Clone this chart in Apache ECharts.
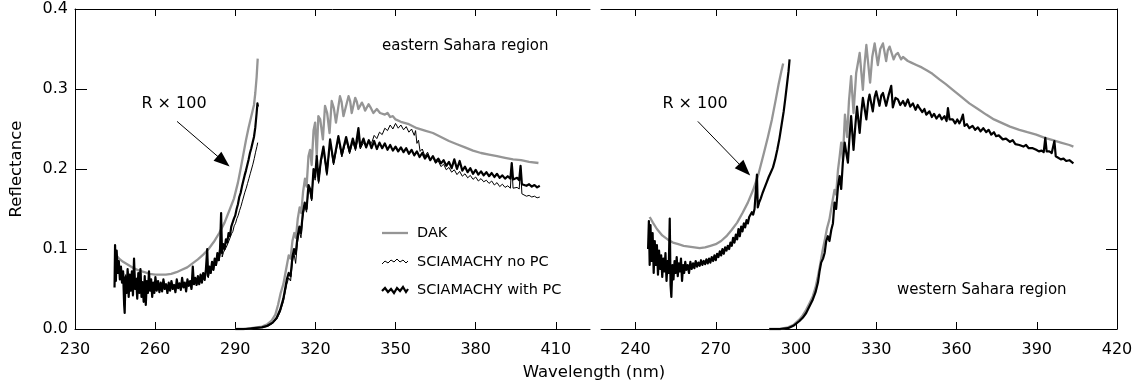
<!DOCTYPE html>
<html><head><meta charset="utf-8">
<script src="https://cdn.jsdelivr.net/npm/echarts@6/dist/echarts.min.js"></script>
<style>html,body{margin:0;padding:0;background:#fff}#c{width:1138px;height:384px}</style>
</head><body><div id="c"></div>
<script>
// ---------- data (wavelength nm, reflectance) ----------
const xTicksEast = [230, 260, 290, 320, 350, 380, 410];
const xTicksWest = [240, 270, 300, 330, 360, 390, 420];
const yTicks = [0, 0.1, 0.2, 0.3, 0.4];

// eastern Sahara, UV part (R x 100)
const eastDakUV = [[245.5,0.092],[246.5,0.088],[248,0.084],[250,0.080],[252,0.076],[254,0.073],[256,0.071],[258,0.069],[260,0.068],[262,0.068],[264,0.068],[266,0.069],[268,0.071],[270,0.074],[272,0.077],[274,0.082],[276,0.087],[278,0.093],[280,0.100],[282,0.109],[284,0.120],[286,0.133],[288,0.150],[289.5,0.163],[291,0.183],[292,0.200],[293,0.218],[294,0.236],[295,0.252],[296,0.266],[297,0.280],[297.5,0.295],[298,0.315],[298.4,0.338]];
const eastNoPcUV = [[244.8,0.055],[245.1,0.098],[245.4,0.066],[245.8,0.092],[246.2,0.072],[246.6,0.082],[247.0,0.064],[247.4,0.076],[247.8,0.060],[248.2,0.070],[248.6,0.040],[249.0,0.068],[249.4,0.050],[249.8,0.072],[250.2,0.046],[250.6,0.066],[251.0,0.052],[251.4,0.070],[251.8,0.048],[252.2,0.078],[252.6,0.054],[253.0,0.064],[253.4,0.044],[253.8,0.066],[254.2,0.050],[254.6,0.070],[255.0,0.046],[255.4,0.060],[255.8,0.040],[256.2,0.062],[256.6,0.038],[257.0,0.058],[257.4,0.048],[257.8,0.068],[258.2,0.052],[258.6,0.060],[259.0,0.044],[259.4,0.057],[259.8,0.048],[260.2,0.062],[260.7,0.050],[261.2,0.058],[261.7,0.048],[262.2,0.056],[262.7,0.049],[263.2,0.060],[263.7,0.051],[264.2,0.055],[264.7,0.047],[265.2,0.057],[265.7,0.049],[266.2,0.058],[266.7,0.051],[267.2,0.054],[267.7,0.048],[268.2,0.060],[268.7,0.052],[269.2,0.056],[269.7,0.050],[270.2,0.061],[270.7,0.053],[271.2,0.057],[271.7,0.049],[272.2,0.060],[272.7,0.054],[273.2,0.058],[273.7,0.051],[274.2,0.070],[274.6,0.055],[275.1,0.062],[275.6,0.055],[276.1,0.063],[276.6,0.056],[277.1,0.065],[277.6,0.058],[278.1,0.066],[278.6,0.060],[279.1,0.070],[279.6,0.090],[279.9,0.064],[280.4,0.074],[280.9,0.070],[281.4,0.080],[281.9,0.074],[282.4,0.084],[282.9,0.079],[283.4,0.090],[283.9,0.085],[284.4,0.094],[284.8,0.132],[285.1,0.090],[285.6,0.096],[286.1,0.095],[286.6,0.102],[287.1,0.103],[287.6,0.110],[288.1,0.112],[288.6,0.119],[289.1,0.122],[289.6,0.129],[290.1,0.132],[290.6,0.138],[291.1,0.142],[291.6,0.148],[292.1,0.153],[292.6,0.159],[293.1,0.165],[293.6,0.171],[294.1,0.176],[294.6,0.182],[295.1,0.188],[295.6,0.194],[296.1,0.200],[296.6,0.206],[297.1,0.213],[297.6,0.221],[298.1,0.228],[298.4,0.233]];
const eastPcUV = [[244.8,0.052],[245.0,0.105],[245.3,0.060],[245.6,0.098],[246.0,0.070],[246.4,0.085],[246.8,0.062],[247.2,0.078],[247.6,0.058],[248.0,0.072],[248.4,0.030],[248.6,0.020],[248.9,0.065],[249.3,0.045],[249.7,0.075],[250.1,0.040],[250.5,0.068],[250.9,0.048],[251.3,0.072],[251.7,0.042],[252.1,0.088],[252.5,0.050],[252.9,0.062],[253.3,0.038],[253.7,0.070],[254.1,0.045],[254.5,0.075],[254.9,0.040],[255.3,0.058],[255.7,0.034],[256.1,0.066],[256.5,0.030],[256.9,0.060],[257.3,0.045],[257.7,0.072],[258.1,0.048],[258.5,0.062],[258.9,0.040],[259.3,0.058],[259.7,0.045],[260.1,0.065],[260.6,0.048],[261.1,0.060],[261.6,0.046],[262.1,0.058],[262.6,0.047],[263.1,0.062],[263.6,0.050],[264.1,0.056],[264.6,0.045],[265.1,0.058],[265.6,0.048],[266.1,0.060],[266.6,0.050],[267.1,0.055],[267.6,0.046],[268.1,0.062],[268.6,0.051],[269.1,0.057],[269.6,0.049],[270.1,0.064],[270.6,0.052],[271.1,0.058],[271.6,0.047],[272.1,0.062],[272.6,0.054],[273.1,0.060],[273.6,0.050],[274.1,0.078],[274.5,0.056],[275.0,0.064],[275.5,0.055],[276.0,0.066],[276.5,0.056],[277.0,0.068],[277.5,0.058],[278.0,0.070],[278.5,0.062],[279.0,0.074],[279.5,0.100],[279.8,0.066],[280.3,0.078],[280.8,0.070],[281.3,0.084],[281.8,0.074],[282.3,0.088],[282.8,0.080],[283.3,0.095],[283.8,0.086],[284.3,0.100],[284.7,0.145],[285.0,0.095],[285.5,0.106],[286.0,0.100],[286.5,0.112],[287.0,0.108],[287.5,0.120],[288.0,0.116],[288.5,0.128],[289.0,0.126],[289.5,0.138],[290.0,0.142],[290.5,0.150],[291.0,0.156],[291.5,0.165],[292.0,0.170],[292.5,0.178],[293.0,0.185],[293.5,0.192],[294.0,0.198],[294.5,0.205],[295.0,0.212],[295.5,0.220],[296.0,0.226],[296.5,0.233],[297.0,0.240],[297.5,0.252],[298.0,0.270],[298.3,0.282],[298.5,0.278]];

// eastern Sahara, main part
const eastDakVis = [[290,0.000],[293,0.000],[296,0.001],[298,0.002],[300,0.003],[302,0.006],[303.5,0.010],[305,0.018],[306,0.030],[307,0.045],[308,0.056],[309,0.074],[310,0.092],[310.7,0.088],[311.4,0.110],[312.1,0.120],[312.7,0.114],[313.4,0.138],[314.1,0.152],[314.7,0.145],[315.4,0.172],[316.1,0.188],[316.7,0.178],[317.4,0.216],[318,0.224],[318.6,0.205],[319.3,0.248],[319.9,0.258],[320.5,0.216],[321.1,0.266],[321.8,0.262],[322.8,0.237],[323.6,0.279],[324.4,0.270],[325.3,0.245],[326.1,0.285],[326.9,0.276],[327.7,0.258],[329.2,0.291],[329.8,0.284],[330.5,0.266],[332.4,0.291],[333,0.285],[333.6,0.270],[334.9,0.289],[335.5,0.284],[336.1,0.275],[337.4,0.283],[338,0.279],[338.6,0.273],[339.9,0.281],[340.8,0.276],[341.7,0.270],[343,0.275],[344.2,0.270],[346,0.268],[347,0.270],[348,0.265],[349,0.266],[350,0.262],[352,0.259],[355,0.256],[358,0.251],[361,0.248],[364,0.245],[367,0.240],[370,0.235],[373,0.231],[376,0.227],[379,0.223],[382,0.220],[385,0.218],[388,0.216],[391,0.214],[394,0.212],[397,0.211],[400,0.209],[403.5,0.2075]];
const eastNoPcVis = [[290,0.000],[294,0.000],[297,0.001],[300,0.002],[302,0.003],[304,0.007],[305.5,0.012],[306.8,0.021],[308,0.034],[309.3,0.056],[310,0.064],[310.7,0.060],[311.4,0.084],[312,0.094],[312.6,0.082],[313.3,0.108],[314,0.122],[314.6,0.114],[315.3,0.140],[316,0.153],[316.7,0.146],[317.4,0.176],[318,0.171],[318.6,0.160],[319.3,0.196],[319.9,0.186],[320.5,0.212],[321.2,0.182],[322,0.206],[323,0.224],[324.3,0.192],[325.5,0.233],[326.8,0.205],[328.6,0.237],[329.9,0.215],[331.5,0.236],[332.8,0.219],[334,0.234],[335,0.223],[336.1,0.240],[336.8,0.225],[338,0.233],[339,0.228],[340,0.236],[341,0.232],[342,0.242],[343,0.238],[344,0.246],[345,0.243],[346,0.251],[347,0.248],[348,0.255],[349,0.250],[350,0.257],[351,0.251],[352,0.255],[353,0.249],[354,0.253],[355,0.246],[356,0.250],[357,0.242],[357.5,0.248],[358,0.232],[358.6,0.236],[359.2,0.222],[360,0.225],[361,0.216],[362,0.221],[363,0.212],[364,0.215],[365,0.207],[366,0.210],[367,0.203],[368,0.206],[369,0.199],[370,0.202],[371,0.196],[372,0.199],[373,0.193],[374,0.197],[375,0.191],[376,0.194],[377,0.189],[378,0.192],[379,0.187],[380,0.190],[381,0.185],[382,0.188],[383,0.184],[384,0.186],[385,0.182],[386,0.185],[387,0.180],[388,0.183],[389,0.178],[390,0.181],[391,0.177],[392,0.179],[393,0.176],[393.5,0.2055],[394,0.176],[394.7,0.176],[395.5,0.177],[396.3,0.175],[396.8,0.203],[397.3,0.169],[398,0.168],[399,0.166],[400,0.167],[401,0.165],[402,0.166],[403,0.164],[404,0.165]];
const eastPcVis = [[290,0.000],[294,0.000],[297,0.001],[300,0.002],[302,0.004],[304,0.008],[305.5,0.014],[306.8,0.024],[308,0.038],[309.3,0.062],[310,0.070],[310.7,0.066],[311.4,0.090],[312,0.100],[312.6,0.094],[313.3,0.115],[314,0.128],[314.6,0.120],[315.3,0.145],[316,0.158],[316.7,0.150],[317.4,0.180],[318,0.175],[318.6,0.163],[319.3,0.200],[319.9,0.190],[320.5,0.216],[321.2,0.185],[322,0.210],[323,0.228],[324.3,0.195],[325.5,0.237],[326.8,0.208],[328.6,0.241],[329.9,0.218],[331.5,0.240],[332.8,0.222],[334,0.238],[335,0.226],[336.1,0.251],[336.8,0.228],[338,0.238],[339,0.227],[340,0.236],[341,0.226],[342,0.235],[343,0.225],[344,0.233],[345,0.226],[346,0.232],[347,0.224],[348,0.230],[349,0.223],[350,0.228],[351,0.222],[352,0.227],[353,0.221],[354,0.226],[355,0.219],[356,0.224],[357,0.217],[358,0.222],[359,0.215],[360,0.220],[361,0.213],[362,0.218],[363,0.211],[364,0.216],[365,0.209],[366,0.213],[367,0.207],[368,0.211],[369,0.204],[370,0.209],[371,0.201],[372,0.212],[373,0.200],[374,0.210],[375,0.198],[376,0.203],[377,0.196],[378,0.201],[379,0.194],[380,0.199],[381,0.193],[382,0.197],[383,0.192],[384,0.196],[385,0.191],[386,0.195],[387,0.190],[388,0.194],[389,0.189],[390,0.192],[391,0.188],[392,0.191],[393,0.188],[393.5,0.2075],[394,0.187],[394.7,0.186],[395.5,0.189],[396.3,0.186],[396.8,0.204],[397.3,0.181],[398,0.182],[399,0.179],[400,0.181],[401,0.178],[402,0.180],[403,0.177],[404,0.179]];

// western Sahara, UV part (R x 100)
const westDakUV = [[245.3,0.140],[246.5,0.133],[248,0.125],[250,0.117],[252,0.112],[254,0.108],[256,0.106],[258,0.104],[260,0.103],[262,0.102],[264,0.101],[266,0.102],[268,0.104],[270,0.106],[272,0.110],[274,0.116],[276,0.124],[278,0.133],[280,0.145],[282,0.158],[284,0.174],[286,0.194],[288,0.220],[289.5,0.240],[291,0.262],[292.5,0.288],[293.5,0.306],[294.5,0.322],[295.2,0.332]];
const westPcUV = [[244.7,0.100],[245.0,0.135],[245.3,0.080],[245.6,0.130],[246.0,0.085],[246.4,0.120],[246.8,0.070],[247.2,0.110],[247.6,0.080],[248.0,0.105],[248.4,0.068],[248.8,0.098],[249.2,0.075],[249.6,0.092],[250.0,0.065],[250.4,0.088],[250.8,0.072],[251.2,0.095],[251.6,0.060],[252.0,0.085],[252.4,0.070],[252.8,0.138],[253.1,0.055],[253.4,0.040],[253.8,0.080],[254.2,0.062],[254.6,0.085],[255.0,0.070],[255.4,0.090],[255.8,0.066],[256.2,0.082],[256.6,0.072],[257.0,0.088],[257.4,0.060],[257.8,0.080],[258.2,0.070],[258.6,0.084],[259.0,0.074],[259.5,0.080],[260.0,0.070],[260.5,0.084],[261.0,0.075],[261.5,0.082],[262.0,0.076],[262.5,0.085],[263.0,0.078],[263.5,0.083],[264.0,0.079],[264.5,0.086],[265.0,0.080],[265.5,0.085],[266.0,0.081],[266.5,0.087],[267.0,0.082],[267.5,0.088],[268.0,0.083],[268.5,0.090],[269.0,0.085],[269.5,0.092],[270.0,0.086],[270.5,0.094],[271.0,0.090],[271.5,0.097],[272.0,0.092],[272.5,0.100],[273.0,0.094],[273.5,0.102],[274.0,0.098],[274.5,0.104],[275.0,0.100],[275.5,0.108],[276.0,0.104],[276.5,0.114],[277.0,0.108],[277.5,0.118],[278.0,0.112],[278.5,0.125],[279.0,0.116],[279.5,0.128],[280.0,0.122],[280.5,0.132],[281.0,0.127],[281.5,0.136],[282.0,0.132],[282.5,0.140],[283.0,0.138],[283.5,0.146],[284.0,0.143],[284.5,0.150],[285.0,0.148],[285.4,0.193],[285.7,0.152],[286.2,0.158],[286.8,0.163],[287.5,0.170],[288.2,0.176],[289.0,0.183],[289.8,0.190],[290.6,0.196],[291.4,0.202],[292.2,0.212],[293.0,0.224],[293.8,0.238],[294.6,0.255],[295.4,0.272],[296.0,0.288],[296.6,0.305],[297.2,0.322],[297.6,0.337]];

// western Sahara, main part
const westDakVis = [[290,0.000],[294,0.000],[297,0.002],[299,0.005],[301.3,0.012],[302.5,0.017],[303.8,0.024],[305,0.032],[306.3,0.041],[307.3,0.052],[308.2,0.066],[309,0.080],[310,0.099],[310.8,0.112],[311.6,0.126],[312.5,0.137],[313.4,0.155],[314.4,0.174],[315,0.168],[315.7,0.199],[316.3,0.215],[316.9,0.233],[317.5,0.212],[318.3,0.268],[319.1,0.240],[319.8,0.285],[320.6,0.316],[321.5,0.270],[322.5,0.320],[323.8,0.345],[325,0.299],[325.6,0.330],[326.3,0.355],[327.7,0.308],[328.5,0.340],[329.4,0.357],[330.6,0.330],[331.5,0.350],[332.5,0.357],[333.7,0.335],[334.3,0.348],[335,0.353],[336.5,0.337],[337.3,0.343],[338.1,0.345],[339.3,0.337],[340,0.340],[340.6,0.341],[341.8,0.335],[342.5,0.336],[343.1,0.333],[345,0.330],[347,0.327],[349,0.323],[351,0.319],[353.6,0.312],[356,0.306],[358.6,0.299],[361.5,0.291],[364.8,0.282],[368,0.275],[371.1,0.268],[374,0.262],[377.3,0.257],[380,0.253],[383.5,0.249],[386.5,0.246],[389.8,0.243],[393,0.239],[396,0.236],[399,0.233],[402.2,0.230],[403.7,0.228]];
const westPcVis = [[290,0.000],[294,0.000],[297,0.001],[299,0.004],[301.3,0.010],[302.5,0.014],[303.8,0.020],[305,0.028],[306.3,0.037],[307.3,0.046],[308.2,0.058],[308.8,0.072],[309.4,0.083],[310.1,0.088],[310.7,0.095],[311.3,0.110],[311.9,0.116],[312.5,0.110],[313.2,0.124],[313.8,0.132],[314.4,0.158],[315,0.150],[315.7,0.178],[316.3,0.191],[316.9,0.175],[317.5,0.208],[318.2,0.233],[318.8,0.220],[319.4,0.208],[320,0.240],[320.6,0.266],[321.5,0.224],[322.2,0.255],[322.8,0.278],[323.8,0.245],[324.4,0.270],[325,0.289],[326.3,0.262],[327,0.285],[327.5,0.293],[328.7,0.272],[329.4,0.290],[330,0.297],[331.2,0.279],[331.9,0.292],[332.5,0.295],[333.7,0.279],[334.6,0.292],[335.6,0.304],[336.2,0.277],[337.2,0.289],[338.1,0.287],[339,0.280],[340,0.285],[340.8,0.279],[341.8,0.287],[342.7,0.278],[343.7,0.282],[344.7,0.274],[345.5,0.280],[346.2,0.276],[347.2,0.271],[348,0.275],[348.7,0.268],[349.9,0.272],[350.8,0.265],[351.6,0.269],[352.5,0.263],[353.6,0.268],[354.5,0.262],[355.5,0.266],[356.3,0.260],[356.8,0.276],[357.4,0.262],[358.6,0.262],[359.5,0.257],[360.3,0.262],[361.1,0.257],[361.8,0.262],[362.4,0.268],[363,0.254],[363.9,0.256],[364.8,0.251],[366,0.254],[367,0.249],[368,0.252],[369,0.247],[370,0.251],[371.1,0.246],[372,0.249],[373,0.243],[374,0.246],[374.8,0.241],[375.8,0.242],[377.3,0.237],[378.5,0.238],[380,0.234],[381,0.236],[382,0.231],[383.5,0.230],[385,0.228],[386,0.230],[387,0.226],[388.5,0.226],[389.8,0.224],[390.8,0.222],[391.8,0.223],[392.6,0.221],[393.2,0.239],[393.7,0.222],[394.7,0.222],[395.6,0.220],[396.6,0.235],[397.1,0.216],[397.8,0.214],[399,0.212],[400,0.213],[401,0.210],[402.2,0.211],[403.7,0.207]];

// annotation arrows (data coords: start, end)
const arrowEast = [[268.2, 0.2595], [285.6, 0.2095]];
const arrowWest = [[263.3, 0.2595], [280.8, 0.1991]];

// ---------- chart ----------
const FONT = 'DejaVu Sans';
const GRAY = '#959595';
const chart = echarts.init(document.getElementById('c'), null, {renderer: 'canvas'});

function xAx(grid, pos, min, max, ticks, labels) {
  return {
    type: 'value', gridIndex: grid, position: pos, min: min, max: max,
    axisLine: {show: true, onZero: false, lineStyle: {color: '#000', width: 1}},
    axisTick: {show: true, inside: true, length: 7, customValues: ticks, lineStyle: {color: '#000'}},
    axisLabel: {show: labels, customValues: ticks, margin: 13, color: '#000', fontFamily: FONT, fontSize: 16},
    splitLine: {show: false}
  };
}
function line(name, data, xi, yi, color, width, z) {
  return {name: name, type: 'line', data: data, xAxisIndex: xi, yAxisIndex: yi,
    showSymbol: false, symbol: 'none', smooth: false, clip: false, z: z,
    lineStyle: {color: color, width: width, join: 'round'}, animation: false, silent: true};
}
function arrow(pts, xi, yi) {
  return {type: 'line', data: [], xAxisIndex: xi, yAxisIndex: yi, animation: false, silent: true,
    markLine: {silent: true, animation: false, symbol: ['none', 'triangle'], symbolSize: [12, 16],
      label: {show: false}, lineStyle: {color: '#000', width: 1, type: 'solid'},
      data: [[{coord: pts[0]}, {coord: pts[1]}]]}};
}

const option = {
  backgroundColor: '#fff',
  animation: false,
  grid: [
    {left: 75, top: 9, width: 515, height: 320, containLabel: false},
    {left: 601, top: 9, width: 516, height: 320, containLabel: false}
  ],
  xAxis: [
    xAx(0, 'bottom', 230, 422.8, xTicksEast, true),
    xAx(0, 'top', 230, 422.8, xTicksEast, false),
    xAx(1, 'bottom', 227.1, 420, xTicksWest, true),
    xAx(1, 'top', 227.1, 420, xTicksWest, false)
  ],
  yAxis: [
    {type: 'value', gridIndex: 0, position: 'left', min: 0, max: 0.4, interval: 0.1,
      name: 'Reflectance', nameLocation: 'middle', nameGap: 50, nameRotate: 90,
      nameTextStyle: {color: '#000', fontFamily: FONT, fontSize: 16.5},
      axisLine: {show: true, lineStyle: {color: '#000', width: 1}},
      axisTick: {show: true, inside: true, length: 12, lineStyle: {color: '#000'}},
      axisLabel: {color: '#000', fontFamily: FONT, fontSize: 16, margin: 7, formatter: v => v.toFixed(1)},
      splitLine: {show: false}},
    {type: 'value', gridIndex: 1, position: 'right', min: 0, max: 0.4, interval: 0.1,
      axisLine: {show: true, lineStyle: {color: '#000', width: 1}},
      axisTick: {show: true, inside: true, length: 11, lineStyle: {color: '#000'}},
      axisLabel: {show: false}, splitLine: {show: false}}
  ],
  series: [
    line('DAK', eastDakUV, 0, 0, GRAY, 2.3, 2),
    line('DAK', eastDakVis, 0, 0, GRAY, 2.3, 2),
    line('SCIAMACHY no PC', eastNoPcUV, 0, 0, '#000', 1, 3),
    line('SCIAMACHY no PC', eastNoPcVis, 0, 0, '#000', 1, 3),
    line('SCIAMACHY with PC', eastPcUV, 0, 0, '#000', 2.2, 4),
    line('SCIAMACHY with PC', eastPcVis, 0, 0, '#000', 2.2, 4),
    line('DAK', westDakUV, 2, 1, GRAY, 2.3, 2),
    line('DAK', westDakVis, 2, 1, GRAY, 2.3, 2),
    line('SCIAMACHY with PC', westPcUV, 2, 1, '#000', 2.2, 4),
    line('SCIAMACHY with PC', westPcVis, 2, 1, '#000', 2.2, 4),
    arrow(arrowEast, 0, 0),
    arrow(arrowWest, 2, 1)
  ],
  graphic: [
    {type: 'text', x: 382, y: 46, style: {text: 'eastern Sahara region', fontFamily: FONT, fontSize: 15, fill: '#000', align: 'left', verticalAlign: 'middle'}},
    {type: 'text', x: 897, y: 290, style: {text: 'western Sahara region', fontFamily: FONT, fontSize: 15, fill: '#000', align: 'left', verticalAlign: 'middle'}},
    {type: 'text', x: 174, y: 104, style: {text: 'R × 100', fontFamily: FONT, fontSize: 16, fill: '#000', align: 'center', verticalAlign: 'middle'}},
    {type: 'text', x: 695, y: 104, style: {text: 'R × 100', fontFamily: FONT, fontSize: 16, fill: '#000', align: 'center', verticalAlign: 'middle'}},
    {type: 'text', x: 594, y: 373, style: {text: 'Wavelength (nm)', fontFamily: FONT, fontSize: 16.5, fill: '#000', align: 'center', verticalAlign: 'middle'}},
    // legend
    {type: 'line', shape: {x1: 382, y1: 233, x2: 408, y2: 233}, style: {stroke: GRAY, lineWidth: 2.3}},
    {type: 'polyline', shape: {points: [[382,264],[385,261],[388,263],[391,260],[394,262],[397,259],[400,262],[403,260],[406,263],[408,261]]}, style: {stroke: '#000', lineWidth: 1, fill: null}},
    {type: 'polyline', shape: {points: [[382,291],[385,288],[388,292],[391,289],[394,293],[397,288],[400,291],[403,287],[406,292],[408,289]]}, style: {stroke: '#000', lineWidth: 2.2, fill: null}},
    {type: 'text', x: 417, y: 233, style: {text: 'DAK', fontFamily: FONT, fontSize: 14.5, fill: '#000', align: 'left', verticalAlign: 'middle'}},
    {type: 'text', x: 417, y: 262, style: {text: 'SCIAMACHY no PC', fontFamily: FONT, fontSize: 14.5, fill: '#000', align: 'left', verticalAlign: 'middle'}},
    {type: 'text', x: 417, y: 290, style: {text: 'SCIAMACHY with PC', fontFamily: FONT, fontSize: 14.5, fill: '#000', align: 'left', verticalAlign: 'middle'}}
  ]
};
chart.setOption(option);
</script>
</body></html>
